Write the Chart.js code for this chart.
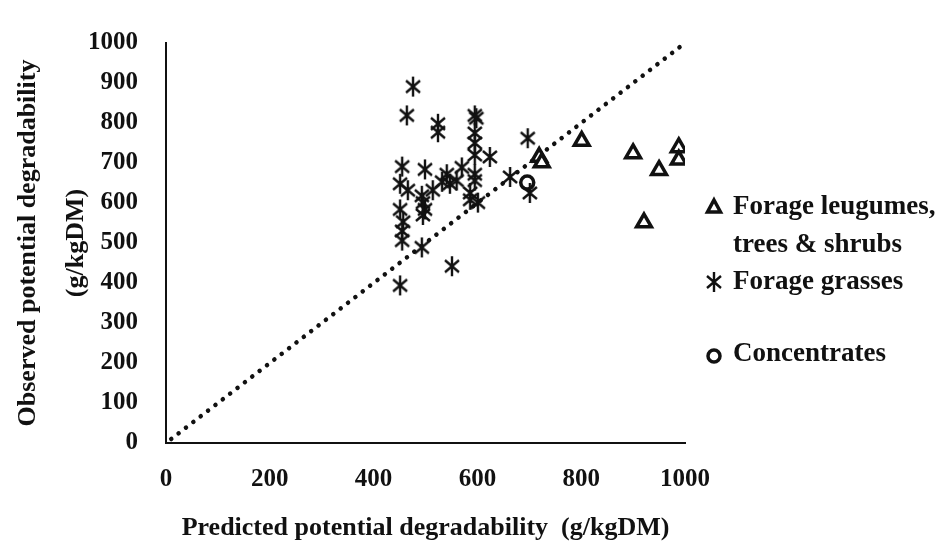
<!DOCTYPE html>
<html>
<head>
<meta charset="utf-8">
<script src="https://cdn.jsdelivr.net/npm/chart.js@4.4.1/dist/chart.umd.min.js"></script>
<style>
  body { margin: 0; background: #fff; }
  #wrap { width: 950px; height: 544px; position: relative; }
</style>
</head>
<body>
<div id="wrap"><canvas id="chart"></canvas></div>
<script>
// values (g/kgDM)
const legumeX = [801, 900, 950, 988, 988, 921, 719, 724];
const legumeY = [755, 724, 682, 739, 708, 551, 715, 701];

const grassX = [476, 464, 524, 524, 595, 598, 595, 595, 697, 624, 595, 595, 663, 701, 586, 601, 586,
                455, 499, 451, 541, 547, 570, 493, 499, 451, 457, 455, 493, 551, 451, 466, 514, 560,
                532, 595, 455, 495, 495];
const grassY = [891, 819, 798, 777, 819, 812, 775, 750, 762, 715, 720, 672, 665, 625, 625, 601, 608,
                691, 684, 648, 672, 648, 689, 618, 584, 584, 553, 506, 489, 442, 394, 632, 632, 656,
                653, 656, 530, 601, 570];

const concX = [696];
const concY = [651];

const lineX = [10, 1000];
const lineY = [10, 1000];

const xTicks = [0, 200, 400, 600, 800, 1000];
const yTicks = [0, 100, 200, 300, 400, 500, 600, 700, 800, 900, 1000];

const legendLabels = [['Forage leugumes,', 'trees & shrubs'], ['Forage grasses'], ['Concentrates']];

const toPoints = (xs, ys) => xs.map((x, i) => ({ x: x, y: ys[i] }));

const INK = '#111';
const SERIF = "'Liberation Serif', 'DejaVu Serif', serif";

// six armed asterisk used for the grasses
function makeAsterisk(color) {
  const c = document.createElement('canvas');
  c.width = 18; c.height = 22;
  const g = c.getContext('2d');
  g.strokeStyle = color;
  g.lineWidth = 2.4;
  g.beginPath();
  g.moveTo(9, 1); g.lineTo(9, 21);
  g.moveTo(2, 5); g.lineTo(16, 17);
  g.moveTo(2, 17); g.lineTo(16, 5);
  g.stroke();
  return c;
}
const asterisk = makeAsterisk(INK);

// legend on the right, drawn by hand so the first label can wrap
const sideLegend = {
  id: 'sideLegend',
  afterDraw(chart) {
    const ctx = chart.ctx;
    ctx.save();
    ctx.fillStyle = INK;
    ctx.strokeStyle = INK;
    ctx.font = 'bold 27px ' + SERIF;
    ctx.textBaseline = 'middle';
    const ix = 714, tx = 733;
    // triangle
    ctx.lineWidth = 3.5;
    ctx.beginPath();
    ctx.moveTo(ix, 200); ctx.lineTo(ix + 6.5, 212); ctx.lineTo(ix - 6.5, 212); ctx.closePath();
    ctx.stroke();
    ctx.fillText(legendLabels[0][0], tx, 207);
    ctx.fillText(legendLabels[0][1], tx, 245);
    // asterisk
    ctx.drawImage(asterisk, ix - 9, 282 - 11);
    ctx.fillText(legendLabels[1][0], tx, 282);
    // circle
    ctx.lineWidth = 3.5;
    ctx.beginPath();
    ctx.arc(ix, 356, 6, 0, Math.PI * 2);
    ctx.stroke();
    ctx.fillText(legendLabels[2][0], tx, 354);
    ctx.restore();
  }
};

new Chart(document.getElementById('chart'), {
  type: 'scatter',
  data: {
    datasets: [
      {
        label: 'Forage leugumes, trees & shrubs',
        data: toPoints(legumeX, legumeY),
        pointStyle: 'triangle',
        pointRadius: 8.5,
        pointBorderWidth: 3.5,
        borderColor: INK,
        backgroundColor: '#fff',
        order: 1
      },
      {
        label: 'Forage grasses',
        data: toPoints(grassX, grassY),
        pointStyle: asterisk,
        pointRadius: 10,
        borderColor: INK,
        order: 2
      },
      {
        label: 'Concentrates',
        data: toPoints(concX, concY),
        pointStyle: 'circle',
        pointRadius: 6.5,
        pointBorderWidth: 3.5,
        borderColor: INK,
        backgroundColor: 'rgba(255,255,255,0)',
        order: 0
      },
      {
        label: '1:1',
        data: toPoints(lineX, lineY),
        showLine: true,
        pointRadius: 0,
        borderColor: INK,
        borderWidth: 4.5,
        borderDash: [0.1, 9.2],
        borderCapStyle: 'round',
        order: 3
      }
    ]
  },
  options: {
    responsive: true,
    maintainAspectRatio: false,
    animation: false,
    layout: { padding: { top: 22, right: 265, left: 4, bottom: 0 } },
    plugins: {
      legend: { display: false },
      tooltip: { enabled: false }
    },
    scales: {
      x: {
        type: 'linear',
        min: 0, max: 1000,
        afterBuildTicks: s => { s.ticks = xTicks.map(v => ({ value: v })); },
        afterFit: s => { s.height = 101; },
        grid: { display: false, drawTicks: false },
        border: { color: INK, width: 2 },
        ticks: { color: INK, padding: 22, font: { family: SERIF, size: 25, weight: 'bold' }, maxRotation: 0,
                 callback: v => String(v) },
        title: {
          display: true,
          text: 'Predicted potential degradability  (g/kgDM)',
          color: INK,
          font: { family: SERIF, size: 26, weight: 'bold' },
          padding: { top: 2, bottom: 0 }
        }
      },
      y: {
        type: 'linear',
        min: 0, max: 1000,
        afterBuildTicks: s => { s.ticks = yTicks.map(v => ({ value: v })); },
        afterFit: s => { s.width = 162; },
        grid: { display: false, drawTicks: false },
        border: { color: INK, width: 2 },
        ticks: { color: INK, padding: 28, font: { family: SERIF, size: 25, weight: 'bold' },
                 callback: v => String(v) },
        title: {
          display: true,
          text: ['Observed potential degradability', '(g/kgDM)'],
          color: INK,
          font: { family: SERIF, size: 26, weight: 'bold', lineHeight: 1.85 },
          padding: { top: 0, bottom: 0 }
        }
      }
    }
  },
  plugins: [sideLegend]
});
</script>
</body>
</html>
